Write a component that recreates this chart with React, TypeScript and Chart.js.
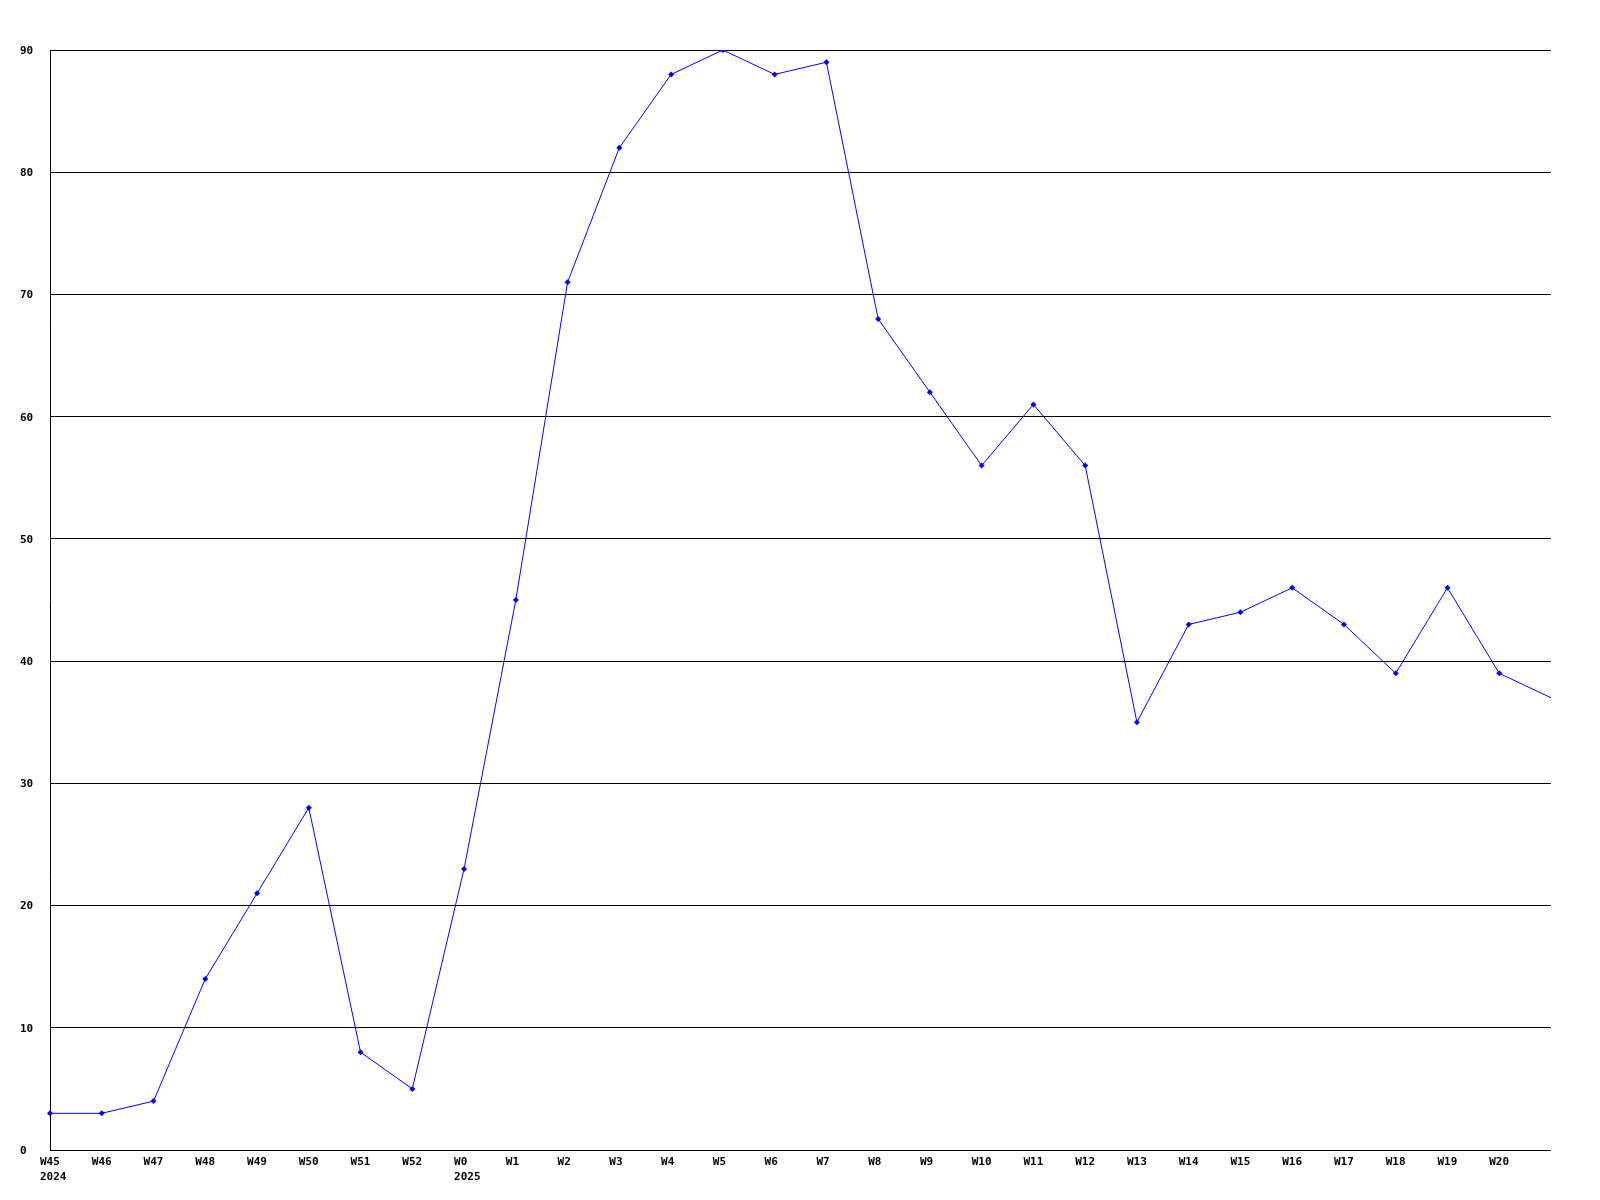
import React, { useEffect, useRef } from "react";
import { Chart, registerables } from "chart.js";

Chart.register(...registerables);

const weekLabels: (string | string[])[] = [
  ["W45", "2024"], "W46", "W47", "W48", "W49", "W50", "W51", "W52",
  ["W0", "2025"], "W1", "W2", "W3", "W4", "W5", "W6", "W7", "W8", "W9",
  "W10", "W11", "W12", "W13", "W14", "W15", "W16", "W17", "W18", "W19", "W20", "",
];

const seriesValues: number[] = [
  3, 3, 4, 14, 21, 28, 8, 5, 23, 45, 71, 82, 88, 90, 88, 89, 68, 62, 56, 61,
  56, 35, 43, 44, 46, 43, 39, 46, 39, 37,
];

const yTickMin = 0;
const yTickMax = 90;
const yTickStep = 10;

export default function App() {
  const ref = useRef<HTMLCanvasElement | null>(null);

  useEffect(() => {
    document.body.style.margin = "0";
    const canvas = ref.current;
    if (!canvas) return;
    const font = { family: "'DejaVu Sans Mono', monospace", size: 11, weight: "bold" as const, lineHeight: "15px" };
    const chart = new Chart(canvas, {
      type: "line",
      data: {
        labels: weekLabels,
        datasets: [
          {
            data: seriesValues,
            borderColor: "#0000ff",
            backgroundColor: "#0000ff",
            borderWidth: 1,
            pointStyle: "rectRot",
            pointRadius: seriesValues.map((_, i) => (i === seriesValues.length - 1 ? 0 : 3)),
            pointBorderWidth: 0,
            tension: 0,
          },
        ],
      },
      options: {
        responsive: false,
        animation: false,
        devicePixelRatio: 1,
        layout: { padding: { left: 20, top: 50, right: 49, bottom: 0 } },
        plugins: { legend: { display: false }, tooltip: { enabled: false } },
        scales: {
          x: {
            type: "category",
            offset: false,
            grid: { display: false, drawTicks: false },
            border: { display: false },
            ticks: {
              autoSkip: false,
              maxRotation: 0,
              minRotation: 0,
              align: "start",
              labelOffset: -10,
              padding: 5,
              color: "#000",
              font,
            },
            afterFit: (s: any) => {
              s.height = 50;
            },
          },
          y: {
            min: yTickMin,
            max: yTickMax,
            grid: { color: "#000", lineWidth: 1, drawTicks: false },
            border: { display: true, color: "#000", width: 1 },
            ticks: {
              stepSize: yTickStep,
              crossAlign: "far",
              padding: 0,
              labelOffset: 1,
              color: "#000",
              font,
            },
            afterFit: (s: any) => {
              s.width = 30;
            },
          },
        },
      },
    });
    return () => chart.destroy();
  }, []);

  return (
    <div style={{ width: 1600, height: 1200, background: "#fff" }}>
      <canvas ref={ref} width={1600} height={1200} style={{ display: "block" }} />
    </div>
  );
}
